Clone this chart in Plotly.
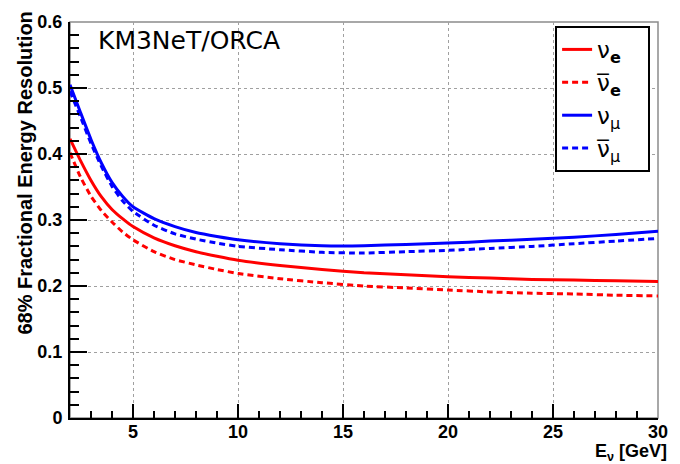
import plotly.graph_objects as go

# Neutrino energy grid [GeV]
energy = [2, 2.5, 3, 3.5, 4, 4.5, 5, 6, 7, 8, 9, 10, 12, 14, 16, 18, 20, 22, 24, 26, 28, 30]

# 68% fractional energy resolution per flavour
res_nue = [0.423, 0.390, 0.360, 0.335, 0.316, 0.302, 0.290, 0.273, 0.261, 0.252, 0.245,
           0.239, 0.231, 0.225, 0.220, 0.217, 0.214, 0.212, 0.210, 0.209, 0.208, 0.207]
res_nuebar = [0.402, 0.365, 0.336, 0.314, 0.297, 0.282, 0.270, 0.252, 0.240, 0.232, 0.225,
              0.219, 0.211, 0.205, 0.200, 0.197, 0.194, 0.191, 0.189, 0.188, 0.186, 0.185]
res_numu = [0.505, 0.463, 0.422, 0.386, 0.357, 0.336, 0.320, 0.302, 0.290, 0.281, 0.275,
            0.270, 0.264, 0.261, 0.261, 0.263, 0.265, 0.268, 0.271, 0.274, 0.278, 0.283]
res_numubar = [0.495, 0.456, 0.416, 0.381, 0.351, 0.329, 0.313, 0.292, 0.279, 0.271, 0.265,
               0.260, 0.255, 0.251, 0.250, 0.252, 0.254, 0.257, 0.260, 0.264, 0.268, 0.272]

pad = "\u00a0" * 3  # keeps the legend box a little wider than its labels
labels = ["ν<sub><b>e</b></sub>" + pad, "ν\u0305<sub><b>e</b></sub>" + pad,
          "ν<sub>μ</sub>" + pad, "ν\u0305<sub>μ</sub>" + pad]
series = [res_nue, res_nuebar, res_numu, res_numubar]
colors = ["#ff0000", "#ff0000", "#0000ff", "#0000ff"]
dashes = ["solid", "6px,4px", "solid", "6px,4px"]

fig = go.Figure()
for lab, ys, col, dsh in zip(labels, series, colors, dashes):
    fig.add_trace(go.Scatter(
        x=energy, y=ys, mode="lines", name=lab,
        line=dict(color=col, width=3, dash=dsh, shape="spline", smoothing=0.5),
    ))

tickfont = dict(family="Liberation Sans", size=18, color="black", weight="bold")

fig.update_layout(
    width=680, height=464,
    margin=dict(l=70, r=13, t=13, b=46),
    paper_bgcolor="white", plot_bgcolor="white",
    showlegend=True,
    legend=dict(
        x=0.825, y=0.99, xanchor="left", yanchor="top",
        bgcolor="white", bordercolor="black", borderwidth=2,
        font=dict(family="DejaVu Sans", size=23, color="black"),
        itemwidth=30, tracegroupgap=0,
    ),
    xaxis=dict(
        range=[2, 30], tickmode="linear", tick0=0, dtick=5,
        ticks="inside", ticklen=14, tickwidth=1.5, tickcolor="black",
        showline=True, linecolor="black", linewidth=2,
        showgrid=True, gridcolor="#a0a0a0", griddash="dot", gridwidth=1,
        zeroline=False, tickfont=tickfont, ticklabelstandoff=-4,
        minor=dict(dtick=1, tick0=0, ticks="inside", ticklen=7,
                   tickcolor="black", tickwidth=1.5, showgrid=False),
    ),
    yaxis=dict(
        range=[0, 0.6], tickmode="linear", tick0=0, dtick=0.1,
        ticks="inside", ticklen=17, tickwidth=1.5, tickcolor="black",
        showline=True, linecolor="black", linewidth=2,
        showgrid=True, gridcolor="#a0a0a0", griddash="dot", gridwidth=1,
        zeroline=False, tickfont=tickfont, ticklabelstandoff=2,
        minor=dict(dtick=0.02, tick0=0, ticks="inside", ticklen=9,
                   tickcolor="black", tickwidth=1.5, showgrid=False),
    ),
    shapes=[dict(type="rect", xref="paper", yref="paper", x0=0, y0=0, x1=1, y1=1,
                 line=dict(color="#8c8c8c", width=1.5), layer="below")],
    annotations=[
        dict(text="KM3NeT/ORCA", xref="paper", yref="paper", x=0.045, y=0.953,
             xanchor="left", yanchor="middle", showarrow=False,
             font=dict(family="DejaVu Sans", size=25, color="black")),
        dict(text="<b>68% Fractional Energy Resolution</b>", xref="paper", yref="paper",
             x=-0.076, y=0.618, xanchor="center", yanchor="middle", textangle=-90,
             showarrow=False,
             font=dict(family="Liberation Sans", size=20, color="black")),
        dict(text="<b>E<sub>ν</sub> [GeV]</b>", xref="paper", yref="paper",
             x=1.018, y=-0.087, xanchor="right", yanchor="middle", showarrow=False,
             font=dict(family="Liberation Sans", size=18, color="black")),
    ],
)

fig.write_html("out.html")
